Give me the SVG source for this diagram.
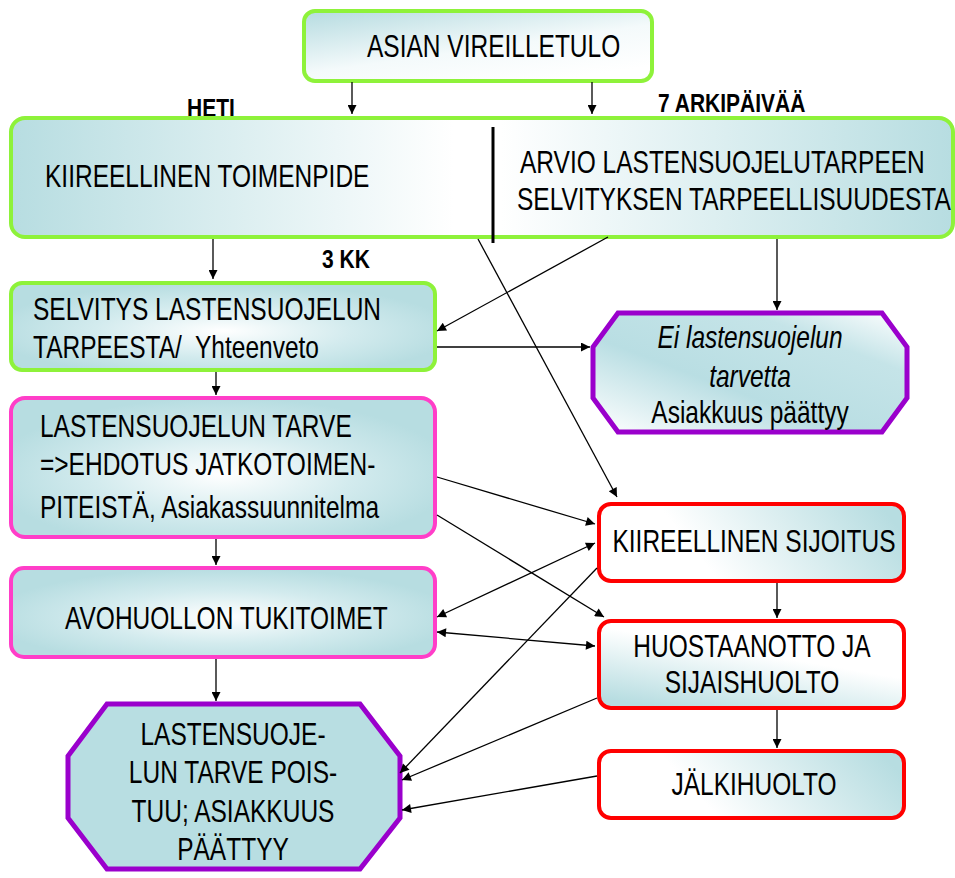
<svg xmlns="http://www.w3.org/2000/svg" width="955" height="878" viewBox="0 0 955 878">
<style>
.t{font-family:"Liberation Sans",Arial,sans-serif;font-size:24.5px;fill:#000}
.b{font-family:"Liberation Sans",Arial,sans-serif;font-size:21px;font-weight:bold;fill:#000}
.i{font-style:italic}
.m{text-anchor:middle}
.g{stroke:#8ef23a;stroke-width:4}
.p{stroke:#ff3ec8;stroke-width:4}
.v{stroke:#9a00cc;stroke-width:5}
.r{stroke:#ff0000;stroke-width:4}
.c line{stroke:#000;stroke-width:1.3;fill:none;marker-end:url(#ah)}
.c line.d{marker-start:url(#ah)}
</style>
<defs>
<marker id="ah" viewBox="0 0 10 10" refX="10" refY="5" markerWidth="11" markerHeight="9" markerUnits="userSpaceOnUse" orient="auto-start-reverse"><path d="M0,0 L10,5 L0,10 z" fill="#000"/></marker>
<linearGradient id="gTop" x1="0" y1="0" x2="0.7" y2="1"><stop offset="0" stop-color="#b5dbe0"/><stop offset="0.6" stop-color="#f4fafb"/><stop offset="1" stop-color="#ffffff"/></linearGradient>
<radialGradient id="gRad" cx="0.5" cy="0.55" r="0.55"><stop offset="0" stop-color="#ffffff"/><stop offset="0.55" stop-color="#d3ebee"/><stop offset="1" stop-color="#b7dde1"/></radialGradient>
<linearGradient id="gBig" x1="0" y1="0" x2="1" y2="0"><stop offset="0" stop-color="#b7dde1"/><stop offset="0.47" stop-color="#ffffff"/><stop offset="0.52" stop-color="#ffffff"/><stop offset="1" stop-color="#b7dde1"/></linearGradient>
<linearGradient id="gEi" x1="0" y1="1" x2="1" y2="0"><stop offset="0" stop-color="#ffffff"/><stop offset="0.4" stop-color="#b9dee3"/><stop offset="0.75" stop-color="#c5e4e8"/><stop offset="1" stop-color="#ffffff"/></linearGradient>
<linearGradient id="gRed" x1="0" y1="0.6" x2="1" y2="0.4"><stop offset="0" stop-color="#ffffff"/><stop offset="0.3" stop-color="#ffffff"/><stop offset="1" stop-color="#b7dde1"/></linearGradient>
<linearGradient id="gHuo" x1="0.2" y1="1" x2="0.8" y2="0"><stop offset="0" stop-color="#b7dde1"/><stop offset="0.6" stop-color="#ffffff"/><stop offset="1" stop-color="#ffffff"/></linearGradient>
</defs>

<g id="asian">
<rect x="304" y="11" width="348" height="70" rx="11" fill="url(#gTop)" class="g"/>
<text class="t" transform="translate(367,57) scale(1,1.27)">ASIAN VIREILLETULO</text>
</g>

<g id="heti"><text class="b" transform="translate(187,117) scale(1,1.26)">HETI</text></g>
<g id="arkipaivaa"><text class="b" transform="translate(658,112) scale(1,1.26)">7 ARKIPÄIVÄÄ</text></g>

<g id="kiireellinen-toimenpide">
<rect x="11" y="118" width="942" height="119" rx="14" fill="url(#gBig)" class="g"/>
<text class="t" transform="translate(45,187) scale(1,1.27)">KIIREELLINEN TOIMENPIDE</text>
</g>
<g id="arvio">
<line x1="493" y1="127" x2="493" y2="243" stroke="#000" stroke-width="3"/>
<text class="t" transform="translate(520,173) scale(1,1.27)">ARVIO LASTENSUOJELUTARPEEN</text>
<text class="t" transform="translate(517,210) scale(1,1.27)">SELVITYKSEN TARPEELLISUUDESTA</text>
</g>

<g id="kk3"><text class="b" transform="translate(322,268) scale(1,1.26)">3 KK</text></g>

<g id="selvitys">
<rect x="11" y="283" width="424" height="87" rx="11" fill="url(#gRad)" class="g"/>
<text class="t" transform="translate(33,320) scale(1,1.27)">SELVITYS LASTENSUOJELUN</text>
<text class="t" transform="translate(33,358) scale(1,1.27)">TARPEESTA/&#160; Yhteenveto</text>
</g>

<g id="ei-tarvetta">
<polygon points="618,313 882,313 907,347 907,398 882,432 618,432 593,398 593,347" fill="url(#gEi)" class="v"/>
<text class="t i m" transform="translate(750,348) scale(1,1.27)">Ei lastensuojelun</text>
<text class="t i m" transform="translate(750,387) scale(1,1.27)">tarvetta</text>
<text class="t m" transform="translate(750,423) scale(1,1.27)">Asiakkuus päättyy</text>
</g>

<g id="lastensuojelun-tarve">
<rect x="11" y="398" width="424" height="139" rx="14" fill="url(#gRad)" class="p"/>
<text class="t" transform="translate(40,437) scale(1,1.27)">LASTENSUOJELUN TARVE</text>
<text class="t" transform="translate(40,475) scale(1,1.27)">=&gt;EHDOTUS JATKOTOIMEN-</text>
<text class="t" transform="translate(40,518) scale(1,1.27)">PITEISTÄ, Asiakassuunnitelma</text>
</g>

<g id="avohuolto">
<rect x="11" y="568" width="424" height="89" rx="13" fill="url(#gRad)" class="p"/>
<text class="t" transform="translate(65,629) scale(1,1.27)">AVOHUOLLON TUKITOIMET</text>
</g>

<g id="tarve-poistuu">
<polygon points="107,704 360,704 400,756 400,818 360,869 107,869 68,818 68,756" fill="#b8dee2" class="v"/>
<text class="t m" transform="translate(233,745) scale(1,1.27)">LASTENSUOJE-</text>
<text class="t m" transform="translate(233,783) scale(1,1.27)">LUN TARVE POIS-</text>
<text class="t m" transform="translate(233,822) scale(1,1.27)">TUU; ASIAKKUUS</text>
<text class="t m" transform="translate(233,860) scale(1,1.27)">PÄÄTTYY</text>
</g>

<g id="kiireellinen-sijoitus">
<rect x="599" y="504" width="305" height="77" rx="12" fill="url(#gRed)" class="r"/>
<text class="t m" transform="translate(754,552) scale(1,1.27)">KIIREELLINEN SIJOITUS</text>
</g>

<g id="huostaanotto">
<rect x="599" y="621" width="305" height="87" rx="12" fill="url(#gHuo)" class="r"/>
<text class="t m" transform="translate(752,657) scale(1,1.27)">HUOSTAANOTTO JA</text>
<text class="t m" transform="translate(752,693) scale(1,1.27)">SIJAISHUOLTO</text>
</g>

<g id="jalkihuolto">
<rect x="599" y="751" width="305" height="67" rx="12" fill="url(#gRed)" class="r"/>
<text class="t m" transform="translate(754,795) scale(1,1.27)">JÄLKIHUOLTO</text>
</g>

<g id="connectors" class="c">
<line x1="352" y1="82" x2="352" y2="114"/>
<line x1="592" y1="82" x2="592" y2="114"/>
<line x1="213" y1="239" x2="213" y2="279"/>
<line x1="608" y1="237" x2="437" y2="331"/>
<line x1="478" y1="239" x2="617" y2="497"/>
<line x1="777" y1="239" x2="777" y2="310"/>
<line x1="437" y1="347" x2="590" y2="347"/>
<line x1="216" y1="372" x2="216" y2="395"/>
<line x1="437" y1="477" x2="595" y2="524"/>
<line x1="437" y1="515" x2="604" y2="617"/>
<line x1="216" y1="539" x2="216" y2="565"/>
<line class="d" x1="437" y1="617" x2="595" y2="543"/>
<line class="d" x1="437" y1="632" x2="595" y2="646"/>
<line x1="597" y1="568" x2="400" y2="773"/>
<line x1="597" y1="698" x2="402" y2="780"/>
<line x1="597" y1="776" x2="402" y2="810"/>
<line x1="777" y1="583" x2="777" y2="618"/>
<line x1="777" y1="710" x2="777" y2="748"/>
<line x1="216" y1="659" x2="216" y2="701"/>
</g>
</svg>
